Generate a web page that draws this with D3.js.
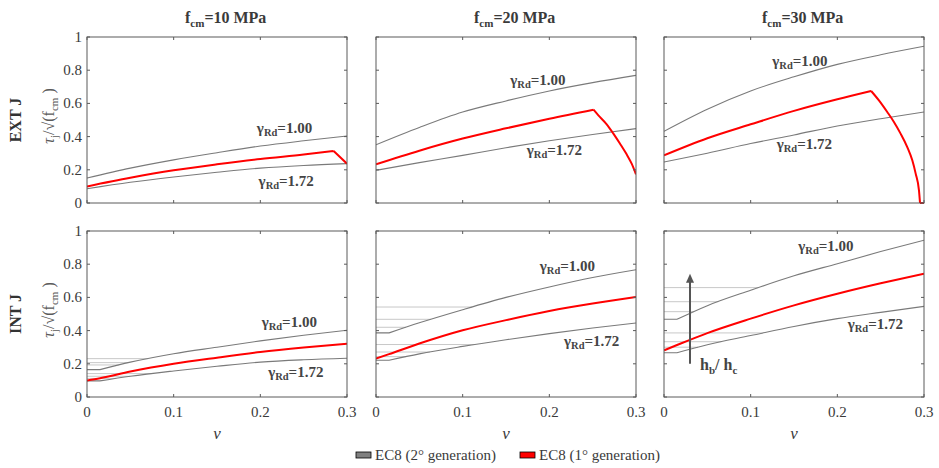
<!DOCTYPE html>
<html>
<head>
<meta charset="utf-8">
<script src="https://cdn.jsdelivr.net/npm/d3@7"></script>
<style>
  html, body { margin: 0; padding: 0; background: #fff; }
  svg { display: block; }
</style>
</head>
<body>
<svg id="chart" width="939" height="468" font-family="'Liberation Serif', 'Times New Roman', 'DejaVu Serif', serif"></svg>
<script>
// ---- data ----------------------------------------------------------------
const strengths = [10, 20, 30];              // f_cm [MPa], one column each
const rowNames = ["EXT J", "INT J"];
const xTicks = [0, 0.1, 0.2, 0.3];
const yTicks = [0, 0.2, 0.4, 0.6, 0.8, 1];

// axial load ratio grids
const nuExt = [0, 0.05, 0.1, 0.15, 0.2, 0.25, 0.3];
const nuInt = [0, 0.015, 0.05, 0.1, 0.15, 0.2, 0.25, 0.3];

// EXT J – EC8 2nd generation, γRd = 1.00 and γRd = 1.72
const ext10Hi = [0.150, 0.210, 0.260, 0.303, 0.343, 0.375, 0.404];
const ext10Lo = [0.086, 0.125, 0.157, 0.185, 0.210, 0.226, 0.237];
const ext20Hi = [0.351, 0.455, 0.548, 0.615, 0.675, 0.725, 0.769];
const ext20Lo = [0.197, 0.243, 0.287, 0.333, 0.375, 0.413, 0.448];
const ext30Hi = [0.432, 0.565, 0.675, 0.760, 0.835, 0.893, 0.944];
const ext30Lo = [0.247, 0.300, 0.358, 0.410, 0.464, 0.508, 0.548];

// EXT J – EC8 1st generation
const ext10RedNu = [0, 0.05, 0.1, 0.15, 0.2, 0.25, 0.2846, 0.3];
const ext10Red   = [0.100, 0.152, 0.197, 0.233, 0.265, 0.292, 0.313, 0.237];
const ext20RedNu = [0, 0.05, 0.1, 0.15, 0.2, 0.251, 0.2566, 0.2662, 0.2739, 0.2816, 0.2892, 0.295, 0.3];
const ext20Red   = [0.233, 0.315, 0.388, 0.450, 0.508, 0.562, 0.528, 0.474, 0.418, 0.357, 0.293, 0.237, 0.173];
const ext30RedNu = [0, 0.05, 0.1, 0.15, 0.2, 0.239, 0.248, 0.2576, 0.2653, 0.273, 0.2807, 0.2865, 0.2904, 0.2942, 0.2954, 0.3];
const ext30Red   = [0.287, 0.390, 0.474, 0.555, 0.625, 0.675, 0.618, 0.548, 0.488, 0.418, 0.337, 0.257, 0.177, 0.076, 0, 0];

// INT J – EC8 2nd generation (lowest h_b/h_c), γRd = 1.00 and γRd = 1.72
const int10Hi = [0.165, 0.165, 0.210, 0.261, 0.300, 0.338, 0.372, 0.402];
const int10Lo = [0.097, 0.097, 0.125, 0.157, 0.185, 0.210, 0.224, 0.233];
const int20Hi = [0.386, 0.386, 0.447, 0.526, 0.600, 0.663, 0.720, 0.767];
const int20Lo = [0.221, 0.221, 0.260, 0.305, 0.345, 0.382, 0.416, 0.446];
const int30Hi = [0.468, 0.468, 0.550, 0.643, 0.730, 0.803, 0.876, 0.944];
const int30Lo = [0.267, 0.267, 0.315, 0.370, 0.425, 0.472, 0.510, 0.546];

// INT J – plateaus for larger h_b/h_c
const int10HiLevels = [0.231, 0.207, 0.193];
const int10LoLevels = [0.141, 0.125, 0.112];
const int20HiLevels = [0.542, 0.468, 0.420];
const int20LoLevels = [0.316, 0.271, 0.243];
const int30HiLevels = [0.659, 0.574, 0.514];
const int30LoLevels = [0.386, 0.333, 0.300];

// INT J – EC8 1st generation
const int10Red = [0.100, 0.113, 0.153, 0.200, 0.237, 0.271, 0.298, 0.321];
const int20Red = [0.231, 0.258, 0.322, 0.402, 0.463, 0.518, 0.563, 0.602];
const int30Red = [0.281, 0.313, 0.385, 0.472, 0.552, 0.622, 0.685, 0.743];

// label anchors (ν, value) for the γRd annotations
const labelHi = [[0.196, 0.424], [0.155, 0.711], [0.125, 0.827],
                 [0.2015, 0.422], [0.189, 0.757], [0.155, 0.880]];
const labelLo = [[0.198, 0.102], [0.174, 0.289], [0.130, 0.325],
                 [0.209, 0.120], [0.217, 0.307], [0.212, 0.408]];
const gammaHi = "=1.00";
const gammaLo = "=1.72";

// h_b/h_c arrow in the INT J, f_cm = 30 MPa panel
const arrowNu = 0.030;
const arrowFrom = 0.20;
const arrowTo = 0.743;
const arrowLabelAt = [0.0416, 0.161];

const legendItems = [
  { label: "EC8 (2° generation)", color: "#808080" },
  { label: "EC8 (1° generation)", color: "#ff0000" }
];

// ---- panels ---------------------------------------------------------------
const panels = [
  { row: 0, col: 0, hi: [nuExt, ext10Hi], lo: [nuExt, ext10Lo], red: [ext10RedNu, ext10Red] },
  { row: 0, col: 1, hi: [nuExt, ext20Hi], lo: [nuExt, ext20Lo], red: [ext20RedNu, ext20Red] },
  { row: 0, col: 2, hi: [nuExt, ext30Hi], lo: [nuExt, ext30Lo], red: [ext30RedNu, ext30Red] },
  { row: 1, col: 0, hi: [nuInt, int10Hi], lo: [nuInt, int10Lo], red: [nuInt, int10Red],
    hiLevels: int10HiLevels, loLevels: int10LoLevels },
  { row: 1, col: 1, hi: [nuInt, int20Hi], lo: [nuInt, int20Lo], red: [nuInt, int20Red],
    hiLevels: int20HiLevels, loLevels: int20LoLevels },
  { row: 1, col: 2, hi: [nuInt, int30Hi], lo: [nuInt, int30Lo], red: [nuInt, int30Red],
    hiLevels: int30HiLevels, loLevels: int30LoLevels, arrow: true }
];

const colLeft = [87, 376, 664];
const rowTop = [37, 231];
const pw = 260, ph = 166;

const svg = d3.select("#chart");
const axisColor = "#5a5a5a";
const textColor = "#3a3a3a";

// ν where a curve first reaches a plateau level
function reachNu(nus, vals, level) {
  for (let i = 0; i < vals.length - 1; i++) {
    if (vals[i] < level && vals[i + 1] >= level) {
      const t = (level - vals[i]) / (vals[i + 1] - vals[i]);
      return nus[i] + t * (nus[i + 1] - nus[i]);
    }
  }
  return nus[nus.length - 1];
}

// split a curve where its slope changes sign (peaks, plateau ends),
// so each piece can be smoothed while keeping the corners sharp
function monotonePieces(pts) {
  const pieces = [];
  let cur = [pts[0]];
  let sign = null;
  for (let i = 1; i < pts.length; i++) {
    const s = Math.sign(pts[i][1] - pts[i - 1][1]);
    if (sign !== null && s !== sign) {
      pieces.push(cur);
      cur = [pts[i - 1]];
    }
    cur.push(pts[i]);
    sign = s;
  }
  pieces.push(cur);
  return pieces;
}

function gammaLabel(g, x, y, rest) {
  const t = g.append("text")
    .attr("x", x).attr("y", y)
    .attr("font-size", 15).attr("font-weight", "bold")
    .attr("fill", "#444");
  t.append("tspan").text("γ");
  t.append("tspan").attr("font-size", 10.5).attr("dy", 3).text("Rd");
  t.append("tspan").attr("dy", -3).text(rest);
}

panels.forEach((p, idx) => {
  const x = d3.scaleLinear().domain([0, 0.3]).range([colLeft[p.col], colLeft[p.col] + pw]);
  const y = d3.scaleLinear().domain([0, 1]).range([rowTop[p.row] + ph, rowTop[p.row]]);
  const g = svg.append("g");

  const clipId = "clip" + idx;
  g.append("clipPath").attr("id", clipId)
    .append("rect").attr("x", x(0)).attr("y", y(1) - 1).attr("width", pw).attr("height", ph + 2);
  const plot = g.append("g").attr("clip-path", `url(#${clipId})`);

  const line = d3.line().x(d => x(d[0])).y(d => y(d[1])).curve(d3.curveMonotoneX);
  const pairs = (a) => a[0].map((n, i) => [n, a[1][i]]);
  const drawCurve = (pts, color, width) => {
    const d = monotonePieces(pts).map(pc => line(pc)).join("");
    plot.append("path").attr("d", d)
      .attr("fill", "none").attr("stroke", color).attr("stroke-width", width)
      .attr("stroke-linejoin", "round");
  };

  // plateaus for larger h_b/h_c
  const plateaus = (levels, curve) => {
    if (!levels) return;
    levels.forEach(L => {
      const end = reachNu(curve[0], curve[1], L);
      plot.append("path")
        .attr("d", d3.line().x(d => x(d[0])).y(d => y(d[1]))([[0, L], [end, L]]))
        .attr("fill", "none").attr("stroke", "#c8c8c8").attr("stroke-width", 1);
    });
  };
  plateaus(p.hiLevels, p.hi);
  plateaus(p.loLevels, p.lo);

  [p.hi, p.lo].forEach(c => drawCurve(pairs(c), "#7a7a7a", 1.1));
  drawCurve(pairs(p.red), "#ff0000", 2);

  // box with inward ticks on all four sides
  g.append("rect").attr("x", x(0)).attr("y", y(1)).attr("width", pw).attr("height", ph)
    .attr("fill", "none").attr("stroke", axisColor).attr("stroke-width", 1);
  const tl = 3;
  xTicks.forEach(t => {
    g.append("line").attr("x1", x(t)).attr("x2", x(t)).attr("y1", y(0)).attr("y2", y(0) - tl)
      .attr("stroke", axisColor);
    g.append("line").attr("x1", x(t)).attr("x2", x(t)).attr("y1", y(1)).attr("y2", y(1) + tl)
      .attr("stroke", axisColor);
  });
  yTicks.forEach(t => {
    g.append("line").attr("x1", x(0)).attr("x2", x(0) + tl).attr("y1", y(t)).attr("y2", y(t))
      .attr("stroke", axisColor);
    g.append("line").attr("x1", x(0.3)).attr("x2", x(0.3) - tl).attr("y1", y(t)).attr("y2", y(t))
      .attr("stroke", axisColor);
  });

  // tick labels
  if (p.col === 0) {
    yTicks.forEach(t => {
      g.append("text").attr("x", x(0) - 5).attr("y", y(t) + 5)
        .attr("text-anchor", "end").attr("font-size", 15).attr("fill", textColor)
        .text(d3.format("")(t));
    });
  }
  if (p.row === 1) {
    xTicks.forEach(t => {
      g.append("text").attr("x", x(t)).attr("y", y(0) + 20)
        .attr("text-anchor", "middle").attr("font-size", 15).attr("fill", textColor)
        .text(d3.format("")(t));
    });
    g.append("text").attr("x", x(0.15)).attr("y", y(0) + 42)
      .attr("text-anchor", "middle").attr("font-size", 17).attr("font-style", "italic")
      .attr("fill", textColor).text("ν");
  }

  // γRd annotations
  gammaLabel(g, x(labelHi[idx][0]), y(labelHi[idx][1]), gammaHi);
  gammaLabel(g, x(labelLo[idx][0]), y(labelLo[idx][1]), gammaLo);

  // column titles
  if (p.row === 0) {
    const t = g.append("text").attr("x", x(0.15) - 32).attr("y", 23)
      .attr("font-size", 16).attr("font-weight", "bold").attr("fill", textColor);
    t.append("tspan").text("f");
    t.append("tspan").attr("font-size", 11).attr("dy", 4).text("cm");
    t.append("tspan").attr("dy", -4).text("=" + strengths[p.col] + " MPa");
  }

  // row labels and y-axis label
  if (p.col === 0) {
    const cy = y(0.5);
    g.append("text").attr("transform", `translate(21,${cy}) rotate(-90)`)
      .attr("text-anchor", "middle").attr("font-size", 16).attr("font-weight", "bold")
      .attr("fill", "#333").text(rowNames[p.row]);
    const yl = g.append("text").attr("transform", `translate(54,${cy - 4}) rotate(-90)`)
      .attr("text-anchor", "middle").attr("font-size", 16).attr("fill", "#5a5a5a");
    yl.append("tspan").attr("font-style", "italic").text("τ");
    yl.append("tspan").attr("font-size", 11).attr("dy", 4).text("j");
    yl.append("tspan").attr("dy", -4).text("/√(f");
    yl.append("tspan").attr("font-size", 11).attr("dy", 4).text("cm");
    yl.append("tspan").attr("dy", -4).text(" )");
  }

  // h_b/h_c arrow
  if (p.arrow) {
    const ax = x(arrowNu), tip = y(arrowTo);
    g.append("line").attr("x1", ax).attr("x2", ax).attr("y1", y(arrowFrom)).attr("y2", tip + 8)
      .attr("stroke", "#555").attr("stroke-width", 2);
    g.append("path").attr("d", `M${ax},${tip} L${ax - 4},${tip + 9} L${ax + 4},${tip + 9} Z`)
      .attr("fill", "#555");
    const t = g.append("text").attr("x", x(arrowLabelAt[0])).attr("y", y(arrowLabelAt[1]))
      .attr("font-size", 16).attr("font-weight", "bold").attr("fill", "#444");
    t.append("tspan").text("h");
    t.append("tspan").attr("font-size", 11).attr("dy", 4).text("b");
    t.append("tspan").attr("dy", -4).text("/ h");
    t.append("tspan").attr("font-size", 11).attr("dy", 4).text("c");
  }
});

// ---- legend ---------------------------------------------------------------
const legendX = [356, 520];
legendItems.forEach((d, i) => {
  const lg = svg.append("g").attr("transform", `translate(${legendX[i]},452)`);
  lg.append("rect").attr("x", 0).attr("y", 0).attr("width", 15).attr("height", 6)
    .attr("fill", d.color).attr("stroke", "#000").attr("stroke-width", 0.8);
  lg.append("text").attr("x", 19).attr("y", 8).attr("font-size", 15).attr("fill", textColor)
    .text(d.label);
});
</script>
</body>
</html>
